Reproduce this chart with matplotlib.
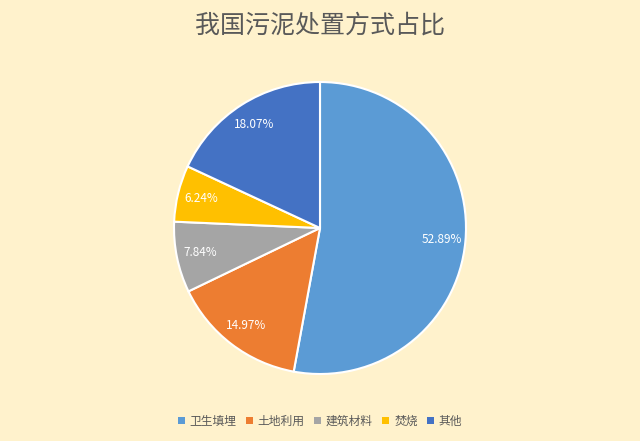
import matplotlib
matplotlib.use("Agg")
import matplotlib.pyplot as plt
from matplotlib.patches import Patch

plt.rcParams['font.family'] = ['Noto Sans CJK SC', 'DejaVu Sans']

# data
categories = ['卫生填埋', '土地利用', '建筑材料', '焚烧', '其他']
shares = [52.89, 14.97, 7.84, 6.24, 18.07]
colors = ['#5B9BD5', '#ED7D31', '#A5A5A5', '#FFC000', '#4472C4']
title = '我国污泥处置方式占比'

bg = '#FFF2CC'
fig = plt.figure(figsize=(6.4, 4.41), dpi=100, facecolor=bg)

# pie area: center ~ (320, 228) px, radius ~ 146 px
cx, cy, r = 320, 228, 146
W, H = 640, 441
ax = fig.add_axes([(cx - r) / W, (H - cy - r) / H, 2 * r / W, 2 * r / H])
ax.set_facecolor(bg)

# labels show the given numbers, not the renormalised ones
share_iter = iter(shares)
wedges, texts, autotexts = ax.pie(
    shares, colors=colors, startangle=90, counterclock=False,
    autopct=lambda p: '%.2f%%' % next(share_iter), pctdistance=0.84,
    wedgeprops=dict(edgecolor='white', linewidth=1.5),
    textprops=dict(color='white', fontsize=8.5))
ax.set_xlim(-1.0, 1.0)
ax.set_ylim(-1.0, 1.0)
ax.set_aspect('equal')
ax.axis('off')

fig.text(0.5, 1 - 26 / H, title, ha='center', va='center',
         fontsize=18, color='#595959')

handles = [Patch(facecolor=c, edgecolor='none') for c in colors]
fig.legend(handles, categories, loc='center', bbox_to_anchor=(0.5, 1 - 421 / H),
           ncol=5, frameon=False, fontsize=8.5, labelcolor='#595959',
           handlelength=0.6, handleheight=0.6, handletextpad=0.4,
           columnspacing=0.8)

fig.savefig('out.png', dpi=100, facecolor=bg)
